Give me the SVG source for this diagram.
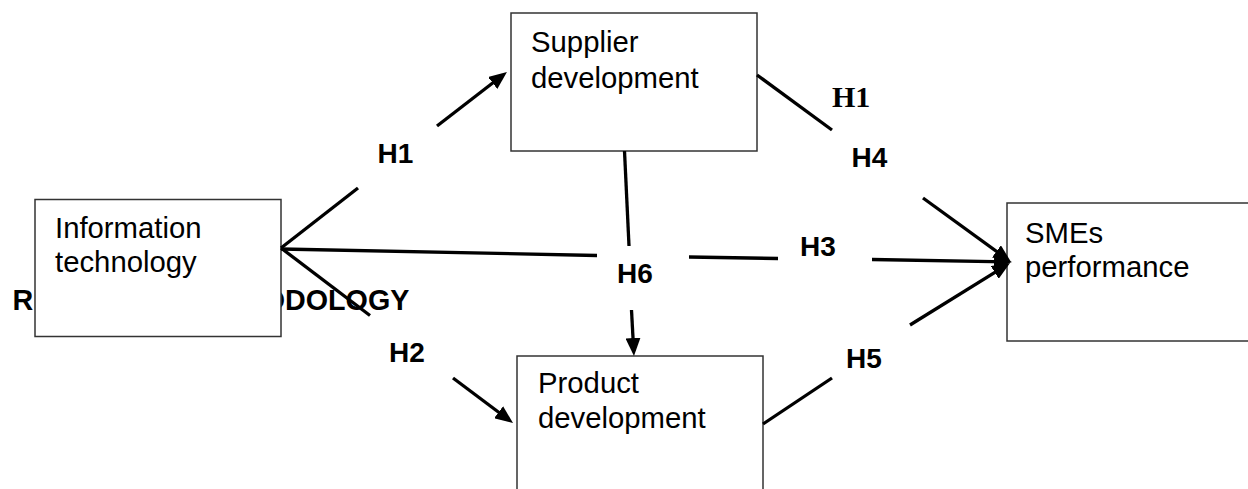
<svg xmlns="http://www.w3.org/2000/svg" width="1248" height="489" viewBox="0 0 1248 489">
  <style>
    .box { fill: #ffffff; stroke: #333333; stroke-width: 1.5; }
    .boxtext { font-family: "Liberation Sans", Arial, sans-serif; font-size: 29.3px; fill: #000000; }
    .lbl { font-family: "Liberation Sans", Arial, sans-serif; font-size: 28px; font-weight: bold; fill: #000000; }
    .heading { font-family: "Liberation Sans", Arial, sans-serif; font-size: 28.7px; font-weight: bold; fill: #000000; }
    .lbl-serif { font-family: "Liberation Serif", "Times New Roman", serif; font-size: 30px; font-weight: bold; fill: #000000; }
    .edge { fill: none; stroke: #000000; stroke-width: 3.3; }
  </style>
  <defs>
    <marker id="arrow" viewBox="0 0 18 15" markerWidth="18" markerHeight="15" refX="13" refY="7.5" orient="auto" markerUnits="userSpaceOnUse">
      <path d="M0,0 L18,7.5 L0,15 z" fill="#000000"/>
    </marker>
  </defs>

  <rect width="1248" height="489" fill="#ffffff"/>

  <!-- heading text, partly covered by the IT box -->
  <text class="heading" x="12.5" y="310">RESEARCH METHODOLOGY</text>

  <g id="node-it">
    <rect class="box" x="35" y="199.5" width="246" height="137"/>
    <text class="boxtext" x="55" y="238">Information</text>
    <text class="boxtext" x="55" y="272">technology</text>
  </g>

  <g id="node-supplier">
    <rect class="box" x="511" y="13" width="246" height="138"/>
    <text class="boxtext" x="531" y="52">Supplier</text>
    <text class="boxtext" x="531" y="88">development</text>
  </g>

  <g id="node-product">
    <rect class="box" x="517" y="356" width="246" height="150"/>
    <text class="boxtext" x="538" y="393">Product</text>
    <text class="boxtext" x="538" y="428">development</text>
  </g>

  <g id="node-smes">
    <rect class="box" x="1007" y="203" width="246" height="138"/>
    <text class="boxtext" x="1025" y="243">SMEs</text>
    <text class="boxtext" x="1025" y="277">performance</text>
  </g>

  <g id="connectors">
    <!-- H1: IT -> Supplier development -->
    <line class="edge" x1="281" y1="248" x2="358" y2="188"/>
    <line class="edge" x1="437" y1="126" x2="503" y2="75" marker-end="url(#arrow)"/>
    <!-- H2: IT -> Product development -->
    <line class="edge" x1="281" y1="248" x2="370" y2="315.5"/>
    <line class="edge" x1="453" y1="378" x2="509" y2="420" marker-end="url(#arrow)"/>
    <!-- H3: IT -> SMEs performance -->
    <line class="edge" x1="281" y1="249" x2="597" y2="255.5"/>
    <line class="edge" x1="689" y1="257" x2="778" y2="258.5"/>
    <line class="edge" x1="872" y1="259.5" x2="1007" y2="261.9" marker-end="url(#arrow)"/>
    <!-- H4: Supplier development -> SMEs performance -->
    <line class="edge" x1="757" y1="75" x2="832" y2="130"/>
    <line class="edge" x1="923" y1="198" x2="1007" y2="259" marker-end="url(#arrow)"/>
    <!-- H5: Product development -> SMEs performance -->
    <line class="edge" x1="763" y1="424" x2="832" y2="378"/>
    <line class="edge" x1="910" y1="325" x2="1005.8" y2="265.6" marker-end="url(#arrow)"/>
    <!-- H6: Supplier development -> Product development -->
    <line class="edge" x1="624.5" y1="151" x2="629" y2="246"/>
    <line class="edge" x1="631.5" y1="310" x2="633.7" y2="351" marker-end="url(#arrow)"/>
  </g>

  <g id="labels">
    <text class="lbl" x="377.5" y="163">H1</text>
    <text class="lbl" x="389" y="361.5">H2</text>
    <text class="lbl" x="800" y="256">H3</text>
    <text class="lbl" x="851.5" y="166.5">H4</text>
    <text class="lbl" x="846" y="368">H5</text>
    <text class="lbl" x="617" y="283">H6</text>
    <text class="lbl-serif" x="832" y="107">H1</text>
  </g>
</svg>
